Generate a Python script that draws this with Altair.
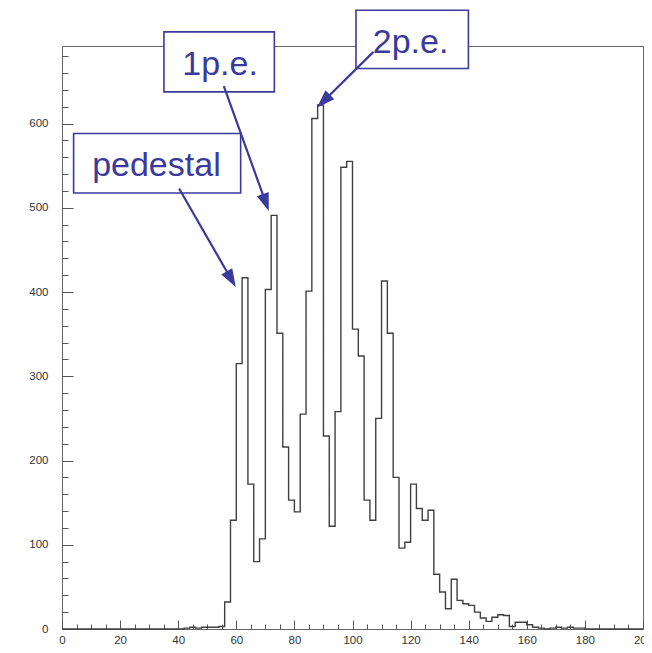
import math
import altair as alt
import pandas as pd

# ---------------- data ----------------
bin_width = 2
first_edge = 42
counts = [1, 2, 1, 2, 2, 2, 3,
          32, 129, 315, 417, 172, 80, 107, 403, 491, 351,
          216, 153, 139, 255, 401, 606, 622, 229, 122, 258,
          548, 555, 356, 324, 153, 129, 250, 413, 351, 180,
          96, 103, 172, 143, 129, 141, 65, 44, 24, 59,
          34, 30, 28, 20, 13, 9, 14, 17, 16, 3,
          8, 8, 5, 2, 1, 0, 1, 2, 1, 2,
          1, 1, 0]

x_major = list(range(0, 201, 20))
x_minor = [v for v in range(0, 201, 5) if v % 20]
y_major = list(range(0, 692, 100))
y_minor = [v for v in range(0, 692, 20) if v % 100]

labels = ["pedestal", "1p.e.", "2p.e."]
label_x = [32.5, 54.4, 120.0]
label_y = [537.8, 657.4, 683.1]
box_x1 = [4.0, 35.1, 101.2]
box_x2 = [61.5, 73.1, 139.9]
box_y1 = [517.6, 637.5, 665.3]
box_y2 = [588.1, 708.8, 734.4]
arrow_from_x = [40.3, 55.7, 107.2]
arrow_from_y = [522.8, 644.3, 685.0]
arrow_to_x = [59.8, 71.2, 87.8]
arrow_to_y = [405.9, 496.1, 619.0]

# ---------------- layout ----------------
W, H = 581, 583
X_DOM = [0, 200]
Y_DOM = [0, 692]
BLUE = "#3a3a9c"
FONT = "Liberation Sans"

# histogram outline points (step-after)
xs = [0, first_edge] + [first_edge + i * bin_width for i in range(len(counts))] + [first_edge + len(counts) * bin_width, 200]
ys = [0, 0] + counts + [0, 0]
hist_df = pd.DataFrame({"x": xs, "y": ys})

xsc = alt.Scale(domain=X_DOM, nice=False, zero=False)
ysc = alt.Scale(domain=Y_DOM, nice=False, zero=False)

hist = alt.Chart(hist_df).mark_line(
    interpolate="step-after", color="#404040", strokeWidth=1.4
).encode(
    x=alt.X("x:Q", scale=xsc, axis=alt.Axis(
        orient="bottom", values=x_major, tickSize=9, offset=-9, domain=False,
        grid=False, title=None, labelPadding=5, labelFontSize=11.5, labelFont=FONT,
        labelColor="#333", tickColor="#555", labelFlush=False, labelOverlap=False)),
    y=alt.Y("y:Q", scale=ysc, axis=alt.Axis(
        orient="left", values=y_major, tickSize=11, offset=-11, domain=False,
        grid=False, title=None, labelPadding=14, labelFontSize=11.5, labelFont=FONT,
        labelColor="#333", tickColor="#555", labelFlush=False, labelOverlap=False)),
)

minor = alt.Chart(hist_df).mark_line(opacity=0).encode(
    x=alt.X("x:Q", scale=xsc, axis=alt.Axis(
        orient="bottom", values=x_minor, tickSize=5, offset=-5, domain=False,
        labels=False, grid=False, title=None, tickColor="#555")),
    y=alt.Y("y:Q", scale=ysc, axis=alt.Axis(
        orient="left", values=y_minor, tickSize=6, offset=-6, domain=False,
        labels=False, grid=False, title=None, tickColor="#555")),
)

ann_df = pd.DataFrame({
    "label": labels, "lx": label_x, "ly": label_y,
    "bx1": box_x1, "bx2": box_x2, "by1": box_y1, "by2": box_y2,
})

boxes = alt.Chart(ann_df).mark_rect(fill="white", stroke=BLUE, strokeWidth=1.6).encode(
    x=alt.X("bx1:Q", scale=xsc, axis=None), x2="bx2:Q",
    y=alt.Y("by1:Q", scale=ysc, axis=None), y2="by2:Q",
)

texts = alt.Chart(ann_df).mark_text(
    font=FONT, fontSize=34, color=BLUE, baseline="alphabetic", align="center"
).encode(
    x=alt.X("lx:Q", scale=xsc, axis=None),
    y=alt.Y("ly:Q", scale=ysc, axis=None),
    text="label:N",
)

# arrows: shaft + head
px_x = W / (X_DOM[1] - X_DOM[0])
px_y = H / (Y_DOM[1] - Y_DOM[0])
HEAD = 18
rows = []
for sx, sy, tx, ty in zip(arrow_from_x, arrow_from_y, arrow_to_x, arrow_to_y):
    dx = (tx - sx) * px_x
    dy = -(ty - sy) * px_y
    L = math.hypot(dx, dy)
    ux, uy = dx / L, dy / L
    cx = tx - (HEAD / 2) * ux / px_x
    cy = ty + (HEAD / 2) * uy / px_y
    ang = math.degrees(math.atan2(dx, -dy)) % 360
    rows.append({"sx": sx, "sy": sy, "cx": cx, "cy": cy, "ang": ang})
arr_df = pd.DataFrame(rows)

shafts = alt.Chart(arr_df).mark_rule(color=BLUE, strokeWidth=2.2).encode(
    x=alt.X("sx:Q", scale=xsc, axis=None), x2="cx:Q",
    y=alt.Y("sy:Q", scale=ysc, axis=None), y2="cy:Q",
)

heads = alt.Chart(arr_df).mark_point(
    shape="M0,-1L0.7,1L-0.7,1Z", filled=True, color=BLUE, opacity=1,
    size=HEAD * HEAD, strokeWidth=0
).encode(
    x=alt.X("cx:Q", scale=xsc, axis=None),
    y=alt.Y("cy:Q", scale=ysc, axis=None),
    angle=alt.Angle("ang:Q", scale=None),
)

chart = alt.layer(hist, minor, boxes, texts, shafts, heads).resolve_axis(
    x="independent", y="independent"
).properties(
    width=W, height=H,
    padding={"left": 54, "top": 38, "right": 1, "bottom": 16},
    autosize=alt.AutoSizeParams(type="none"),
    background="white",
).configure_view(stroke="#666", strokeWidth=1)

chart.save("out.html", embed_options={"renderer": "svg", "actions": False})
